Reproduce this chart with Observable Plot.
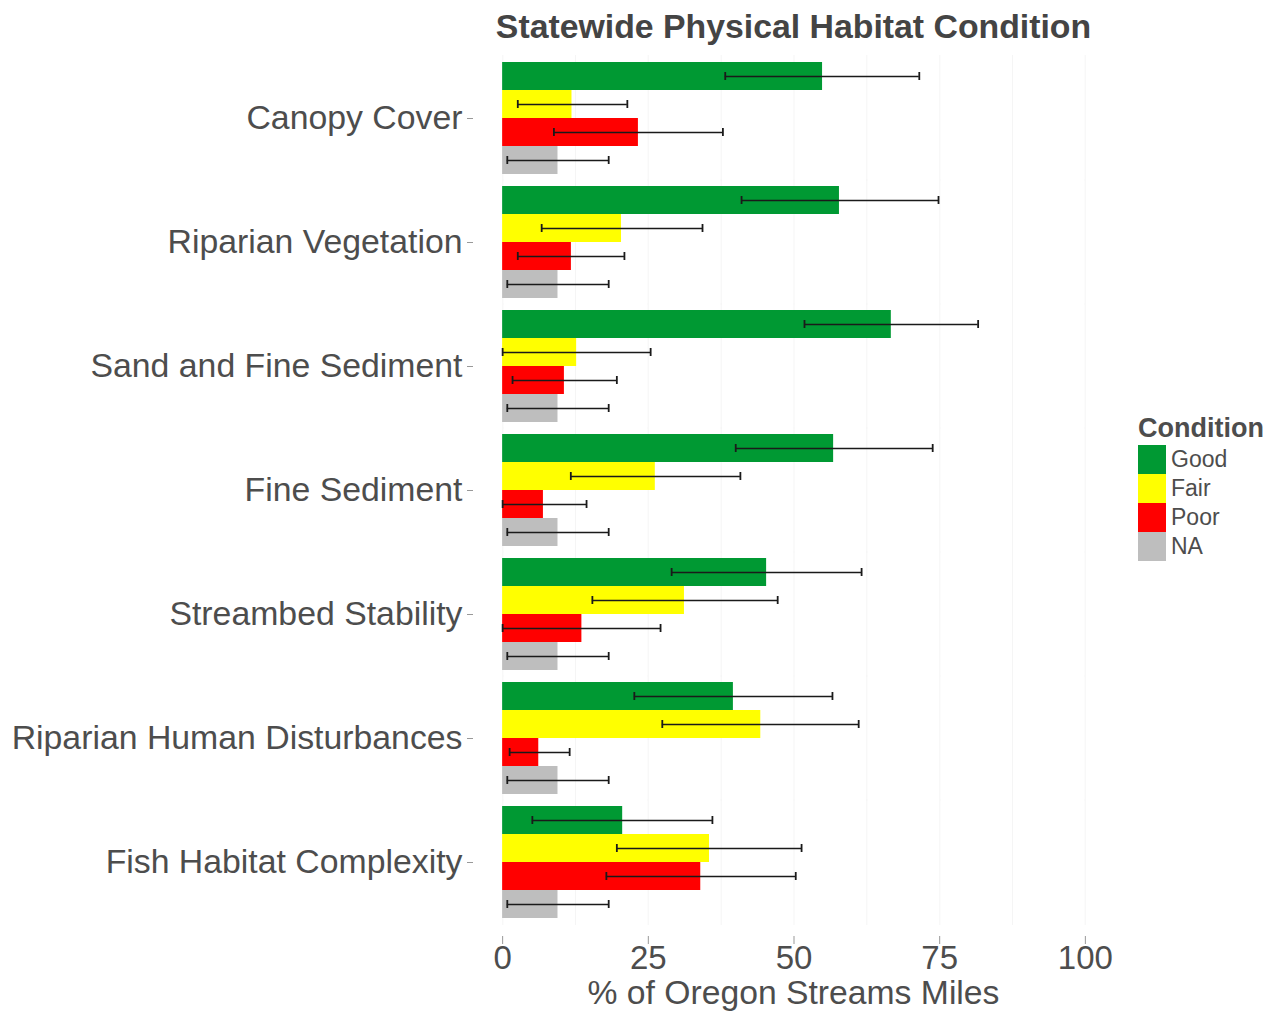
<!DOCTYPE html>
<html><head><meta charset="utf-8">
<script src="https://cdn.jsdelivr.net/npm/d3@7"></script>
<script src="https://cdn.jsdelivr.net/npm/@observablehq/plot@0.6"></script>
<style>
body{margin:0;background:#fff;}
#wrap{position:relative;width:1275px;height:1011px;font-family:"Liberation Sans",Arial,sans-serif;color:#4d4d4d;overflow:hidden;}
#chart{position:absolute;left:0;top:0;}
#title{position:absolute;left:0;width:1587px;top:10px;text-align:center;font-weight:bold;font-size:33.8px;line-height:33px;color:#444;white-space:nowrap;}
#xtitle{position:absolute;left:0;width:1587px;top:979px;text-align:center;font-size:33.7px;line-height:26px;white-space:nowrap;}
#legend{position:absolute;left:1138px;top:415px;}
#legend .lt{font-weight:bold;font-size:27px;line-height:27px;margin-bottom:3px;white-space:nowrap;}
#legend .row{display:flex;align-items:center;height:29px;}
#legend .sw{width:28px;height:29px;margin-right:5px;}
#legend .lab{font-size:23px;line-height:23px;}
</style></head><body>
<div id="wrap">
  <div id="chart"></div>
  <div id="title">Statewide Physical Habitat Condition</div>
  <div id="xtitle">% of Oregon Streams Miles</div>
  <div id="legend"></div>
</div>
<script>
const categories = ["Canopy Cover","Riparian Vegetation","Sand and Fine Sediment","Fine Sediment","Streambed Stability","Riparian Human Disturbances","Fish Habitat Complexity"];
const conditions = ["Good","Fair","Poor","NA"];
const conditionColors = ["#009933","#ffff00","#ff0000","#bebebe"];
const xTicks = [0,25,50,75,100];

const goodPct = [54.9, 57.8, 66.7, 56.8, 45.3, 39.6, 20.6];
const goodLo  = [38.2, 41.0, 51.8, 40.0, 29.0, 22.6, 5.1];
const goodHi  = [71.5, 74.8, 81.6, 73.8, 61.6, 56.6, 36.0];

const fairPct = [11.9, 20.4, 12.7, 26.2, 31.2, 44.3, 35.5];
const fairLo  = [2.6, 6.7, 0.0, 11.7, 15.4, 27.4, 19.6];
const fairHi  = [21.4, 34.3, 25.4, 40.8, 47.2, 61.1, 51.3];

const poorPct = [23.3, 11.8, 10.6, 7.0, 13.6, 6.2, 34.0];
const poorLo  = [8.8, 2.6, 1.7, 0.0, 0.0, 1.2, 17.8];
const poorHi  = [37.8, 20.9, 19.6, 14.4, 27.1, 11.5, 50.3];

const naPct = [9.5, 9.5, 9.5, 9.5, 9.5, 9.5, 9.5];
const naLo  = [0.8, 0.8, 0.8, 0.8, 0.8, 0.8, 0.8];
const naHi  = [18.2, 18.2, 18.2, 18.2, 18.2, 18.2, 18.2];

const series = {Good:[goodPct,goodLo,goodHi], Fair:[fairPct,fairLo,fairHi], Poor:[poorPct,poorLo,poorHi], NA:[naPct,naLo,naHi]};
const rows = [];
categories.forEach((c,i)=>{
  conditions.forEach(k=>{
    const [v,lo,hi] = series[k];
    rows.push({category:c, condition:k, value:v[i], lo:lo[i], hi:hi[i]});
  });
});

const gridMajor = [0,25,50,75,100];
const gridMinor = [12.5,37.5,62.5,87.5];

const chart = Plot.plot({
  width:1275, height:1011,
  marginLeft:473, marginRight:161, marginTop:56, marginBottom:87,
  style:{fontFamily:'"Liberation Sans",Arial,sans-serif', color:"#4d4d4d", background:"transparent", overflow:"visible"},
  x:{domain:[-5,105], axis:null},
  fy:{domain:categories, paddingInner:0.1, paddingOuter:0.05, axis:null},
  y:{domain:conditions, padding:0, axis:null},
  color:{domain:conditions, range:conditionColors},
  marks:[
    Plot.ruleX(gridMinor, {stroke:"#f5f5f5", strokeWidth:1, insetTop:-7, insetBottom:-7}),
    Plot.ruleX(gridMajor, {stroke:"#f8f8f8", strokeWidth:1.5, insetTop:-7, insetBottom:-7}),
    Plot.barX(rows, {x:"value", y:"condition", fy:"category", fill:"condition"}),
    Plot.ruleY(rows, {x1:"lo", x2:"hi", y:"condition", fy:"category", stroke:"#1a1a1a", strokeWidth:1.6}),
    Plot.tickX(rows, {x:"lo", y:"condition", fy:"category", stroke:"#1a1a1a", strokeWidth:1.8, insetTop:10, insetBottom:10}),
    Plot.tickX(rows, {x:"hi", y:"condition", fy:"category", stroke:"#1a1a1a", strokeWidth:1.8, insetTop:10, insetBottom:10}),
    Plot.axisFy({anchor:"left", label:null, tickSize:6, tickPadding:5, fontSize:33.8, stroke:"#999", fill:"#4d4d4d"}),
    Plot.axisX({anchor:"bottom", ticks:xTicks, label:null, tickSize:8, tickPadding:1, fontSize:33, stroke:"#999", fill:"#4d4d4d", dy:18})
  ]
});
document.getElementById("chart").appendChild(chart);

const legend = document.getElementById("legend");
const lt = document.createElement("div"); lt.className="lt"; lt.textContent="Condition"; legend.appendChild(lt);
conditions.forEach((k,i)=>{
  const r = document.createElement("div"); r.className="row";
  const s = document.createElement("div"); s.className="sw"; s.style.background=conditionColors[i];
  const l = document.createElement("div"); l.className="lab"; l.textContent=k;
  r.appendChild(s); r.appendChild(l); legend.appendChild(r);
});
</script>
</body></html>
